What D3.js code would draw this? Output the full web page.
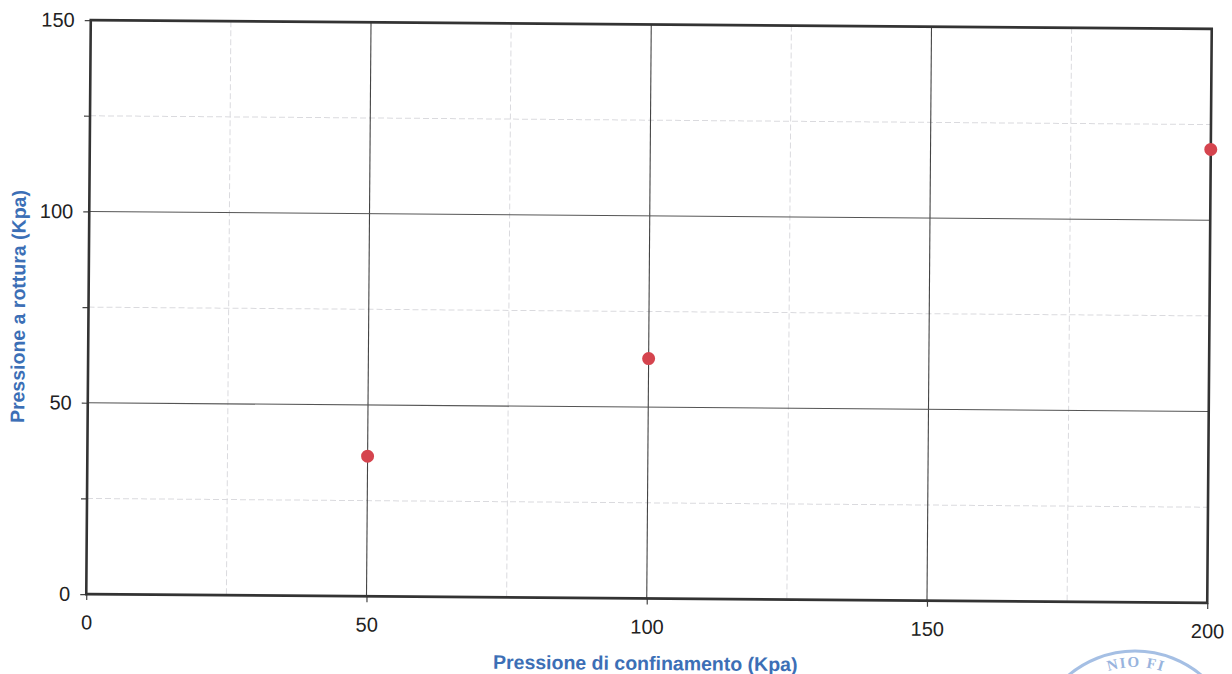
<!DOCTYPE html>
<html>
<head>
<meta charset="utf-8">
<script src="https://cdn.jsdelivr.net/npm/d3@7"></script>
<style>
  html, body { margin: 0; padding: 0; background: #fff; }
  svg { display: block; }
</style>
</head>
<body>
<svg id="chart" width="1232" height="674"></svg>
<script>
// ---- data ----
const confinamento = [50, 100, 200];          // x values (Kpa)
const rottura = [36.6, 62.7, 118.5];           // y values (Kpa)
const xTickLabels = [0, 50, 100, 150, 200];
const yTickLabels = [0, 50, 100, 150];
const xMinor = [25, 75, 125, 175];
const yMinor = [25, 75, 125];
const xTitle = "Pressione di confinamento (Kpa)";
const yTitle = "Pressione a rottura (Kpa)";
const stampText = "NIO FI";

// ---- layout ----
const pLeft = 88.5, pRight = 1209.5, pTop = 24.5, pBottom = 598.5;
const svg = d3.select("#chart");

const g = svg.append("g")
  .attr("transform", `rotate(0.45, ${(pLeft + pRight) / 2}, ${(pTop + pBottom) / 2})`);

const x = d3.scaleLinear().domain([0, 200]).range([pLeft, pRight]);
const y = d3.scaleLinear().domain([0, 150]).range([pBottom, pTop]);

// minor grid
g.append("g").selectAll("line").data(xMinor).join("line")
  .attr("x1", d => x(d)).attr("x2", d => x(d))
  .attr("y1", pTop).attr("y2", pBottom)
  .attr("stroke", "#dadade").attr("stroke-width", 1).attr("stroke-dasharray", "6,3");
g.append("g").selectAll("line").data(yMinor).join("line")
  .attr("x1", pLeft).attr("x2", pRight)
  .attr("y1", d => y(d)).attr("y2", d => y(d))
  .attr("stroke", "#dadade").attr("stroke-width", 1).attr("stroke-dasharray", "6,3");

// major grid
g.append("g").selectAll("line").data(xTickLabels.slice(1, -1)).join("line")
  .attr("x1", d => x(d)).attr("x2", d => x(d))
  .attr("y1", pTop).attr("y2", pBottom)
  .attr("stroke", "#444").attr("stroke-width", 1.1);
g.append("g").selectAll("line").data(yTickLabels.slice(1, -1)).join("line")
  .attr("x1", pLeft).attr("x2", pRight)
  .attr("y1", d => y(d)).attr("y2", d => y(d))
  .attr("stroke", "#555").attr("stroke-width", 1.1);

// axes (ticks + labels) via d3 axes
const yAxis = d3.axisLeft(y).tickValues([0, 25, 50, 75, 100, 125, 150])
  .tickSize(6).tickFormat(d => yTickLabels.includes(d) ? d : "");
const yG = g.append("g").attr("transform", `translate(${pLeft},0)`).call(yAxis);
yG.select(".domain").remove();
yG.selectAll(".tick line").attr("stroke", "#444").attr("stroke-width", 1.2);
yG.selectAll(".tick text").attr("font-family", "Liberation Sans, Arial, sans-serif")
  .attr("font-size", 20).attr("fill", "#222").attr("x", -16);

const xAxis = d3.axisBottom(x).tickValues(xTickLabels).tickSize(6).tickFormat(d => d);
const xG = g.append("g").attr("transform", `translate(0,${pBottom})`).call(xAxis);
xG.select(".domain").remove();
xG.selectAll(".tick line").attr("stroke", "#444").attr("stroke-width", 1.2);
xG.selectAll(".tick text").attr("font-family", "Liberation Sans, Arial, sans-serif")
  .attr("font-size", 20).attr("fill", "#222").attr("y", 21);

// frame
g.append("rect")
  .attr("x", pLeft).attr("y", pTop)
  .attr("width", pRight - pLeft).attr("height", pBottom - pTop)
  .attr("fill", "none").attr("stroke", "#333").attr("stroke-width", 2.6);

// points
g.append("g").selectAll("circle").data(confinamento.map((c, i) => [c, rottura[i]])).join("circle")
  .attr("cx", d => x(d[0])).attr("cy", d => y(d[1]))
  .attr("r", 6.5).attr("fill", "#d5444e");

// axis titles
g.append("text")
  .attr("x", 648).attr("y", 670)
  .attr("text-anchor", "middle")
  .attr("font-family", "Liberation Sans, Arial, sans-serif")
  .attr("font-weight", "bold").attr("font-size", 19.5).attr("fill", "#3c6fb6")
  .text(xTitle);
g.append("text")
  .attr("transform", `translate(25,${(pTop + pBottom) / 2}) rotate(-90)`)
  .attr("text-anchor", "middle")
  .attr("font-family", "Liberation Sans, Arial, sans-serif")
  .attr("font-weight", "bold").attr("font-size", 19.5).attr("fill", "#3c6fb6")
  .text(yTitle);

// partial stamp at bottom right
const stamp = svg.append("g").attr("opacity", 0.8);
stamp.append("circle").attr("cx", 1135).attr("cy", 754).attr("r", 103)
  .attr("fill", "none").attr("stroke", "#8fb0de").attr("stroke-width", 3);
stamp.append("path").attr("id", "stampArc")
  .attr("d", d3.arc()({innerRadius: 87, outerRadius: 87, startAngle: -0.6, endAngle: 0.6}))
  .attr("transform", "translate(1135,754)").attr("fill", "none");
stamp.append("text")
  .attr("font-family", "Liberation Serif, serif").attr("font-weight", "bold")
  .attr("font-size", 15).attr("fill", "#7fa2d6").attr("letter-spacing", 1.5)
  .append("textPath").attr("href", "#stampArc").attr("startOffset", "12%")
  .text(stampText);
</script>
</body>
</html>
